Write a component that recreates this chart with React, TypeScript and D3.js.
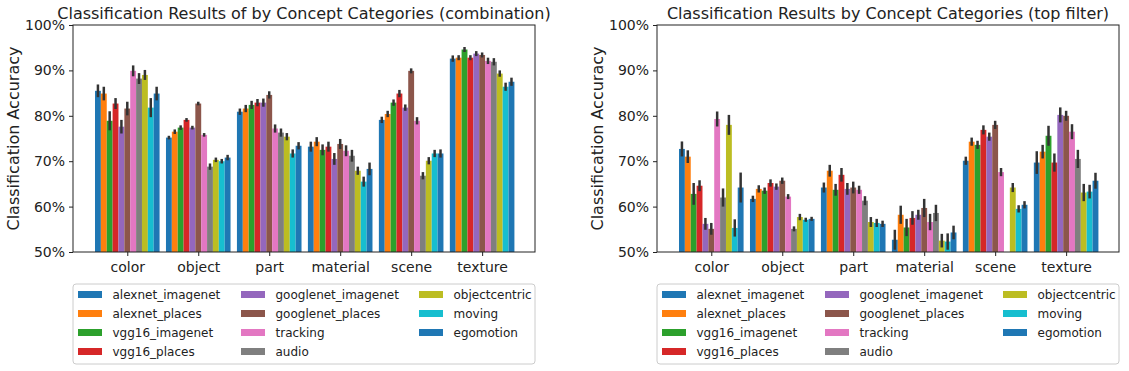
import React, {useEffect, useRef} from 'react';
import * as d3 from 'd3';

const categories = ['color', 'object', 'part', 'material', 'scene', 'texture'];
const models = ['alexnet_imagenet', 'alexnet_places', 'vgg16_imagenet', 'vgg16_places',
    'googlenet_imagenet', 'googlenet_places', 'tracking', 'audio', 'objectcentric', 'moving', 'egomotion'];
const modelColors = ['#1f77b4', '#ff7f0e', '#2ca02c', '#d62728', '#9467bd', '#8c564b',
    '#e377c2', '#7f7f7f', '#bcbd22', '#17becf', '#1f77b4'];
const yTicks = [50, 60, 70, 80, 90, 100];

// rows = categories, columns = models
const comboMeans = [
    [85.5, 84.9, 78.9, 82.7, 77.6, 81.6, 89.9, 88.2, 89.0, 81.8, 84.9],
    [75.2, 76.5, 77.4, 79.1, 77.4, 82.7, 75.8, 68.8, 70.3, 70.0, 70.8],
    [80.9, 81.6, 82.4, 82.9, 82.9, 84.6, 77.2, 76.3, 75.4, 71.7, 73.4],
    [73.2, 74.3, 72.5, 73.2, 70.5, 73.8, 72.3, 71.2, 67.9, 65.5, 68.3],
    [79.1, 80.4, 82.9, 84.9, 81.8, 89.9, 78.9, 66.8, 70.1, 71.7, 71.7],
    [92.6, 92.8, 94.6, 92.8, 93.7, 93.4, 92.1, 91.9, 89.3, 86.4, 87.5],
];
const comboErr = [
    [1.4, 1.5, 2.1, 1.2, 1.5, 1.5, 1.2, 1.2, 1.1, 2.1, 1.5],
    [0.4, 0.5, 0.5, 0.4, 0.4, 0.4, 0.4, 0.7, 0.5, 0.5, 0.6],
    [0.7, 0.8, 0.9, 0.8, 0.9, 0.8, 0.9, 0.9, 0.8, 0.9, 0.8],
    [1.1, 1.0, 1.2, 1.1, 1.3, 1.1, 1.2, 1.3, 0.9, 1.1, 1.4],
    [0.7, 0.7, 0.7, 0.8, 0.7, 0.55, 0.8, 0.8, 0.8, 0.8, 0.9],
    [0.7, 0.55, 0.55, 0.55, 0.55, 0.55, 0.7, 0.8, 0.7, 0.9, 0.9],
];
const topMeans = [
    [72.7, 71.0, 62.8, 64.6, 56.2, 55.1, 79.3, 62.0, 78.0, 55.3, 64.2],
    [61.7, 63.9, 63.5, 65.2, 64.4, 65.7, 62.2, 55.1, 57.7, 57.1, 57.3],
    [64.2, 67.9, 63.7, 67.0, 63.9, 64.2, 63.7, 61.3, 56.6, 56.4, 56.2],
    [52.7, 58.2, 55.4, 57.5, 58.2, 59.7, 56.6, 58.6, 52.5, 52.3, 54.3],
    [70.1, 74.3, 73.6, 76.9, 75.4, 78.0, 67.6, null, 64.2, 59.5, 60.4],
    [69.7, 72.1, 75.6, 69.7, 80.2, 80.0, 76.5, 70.5, 63.1, 63.3, 65.7],
];
const topErr = [
    [1.65, 1.4, 2.4, 1.2, 1.3, 1.3, 1.65, 2.0, 2.2, 1.9, 3.3],
    [0.7, 0.8, 0.7, 0.8, 0.7, 0.7, 0.55, 0.55, 0.7, 0.45, 0.45],
    [1.1, 1.3, 1.3, 1.5, 1.3, 1.3, 0.9, 1.0, 1.1, 0.9, 0.7],
    [2.2, 2.0, 1.9, 1.5, 1.1, 2.0, 1.8, 1.8, 1.5, 1.8, 1.5],
    [0.9, 0.9, 0.9, 1.0, 0.9, 0.9, 0.9, null, 1.0, 0.8, 0.8],
    [2.5, 1.5, 2.2, 2.0, 1.65, 1.1, 1.65, 2.0, 1.9, 1.5, 1.75],
];

const font = 'DejaVu Sans, sans-serif';

function drawPanel(svg, {left, right, title, means, errs, id}) {
    const top = 25, bottom = 252;
    const x = d3.scaleLinear().domain([-0.765, 5.745]).range([left, right]);
    const y = d3.scaleLinear().domain([50, 100]).range([bottom, top]);
    const groupWidth = 0.91;
    const bw = groupWidth / models.length;

    const g = svg.append('g');
    svg.append('defs').append('clipPath').attr('id', id)
        .append('rect').attr('x', left).attr('y', top).attr('width', right - left).attr('height', bottom - top);

    const plot = g.append('g').attr('clip-path', `url(#${id})`);
    categories.forEach((cat, ci) => {
        models.forEach((m, mi) => {
            const v = means[ci][mi];
            if (v == null) return;
            const x0 = ci - groupWidth / 2 + mi * bw;
            plot.append('rect')
                .attr('x', x(x0))
                .attr('width', x(x0 + bw) - x(x0))
                .attr('y', y(v))
                .attr('height', y(50) - y(v))
                .attr('fill', modelColors[mi]);
        });
    });
    categories.forEach((cat, ci) => {
        models.forEach((m, mi) => {
            const v = means[ci][mi];
            if (v == null) return;
            const e = errs[ci][mi];
            const cx = x(ci - groupWidth / 2 + (mi + 0.5) * bw);
            plot.append('line')
                .attr('x1', cx).attr('x2', cx)
                .attr('y1', y(v - e)).attr('y2', y(v + e))
                .attr('stroke', '#333').attr('stroke-width', 2.5);
        });
    });

    // axes
    const xAxis = d3.axisBottom(x).tickValues(d3.range(categories.length))
        .tickFormat(i => categories[i]).tickSize(4).tickSizeOuter(0);
    const gx = g.append('g').attr('transform', `translate(0,${bottom})`).call(xAxis);
    const yAxis = d3.axisLeft(y).tickValues(yTicks).tickFormat(d => `${d}%`).tickSize(4).tickSizeOuter(0);
    const gy = g.append('g').attr('transform', `translate(${left},0)`).call(yAxis);
    [gx, gy].forEach(a => {
        a.select('.domain').remove();
        a.selectAll('line').attr('stroke', '#222');
        a.selectAll('text').attr('font-family', font).attr('font-size', 14).attr('fill', '#222');
    });
    gx.selectAll('text').attr('dy', '0.95em');
    gy.selectAll('text').attr('dx', '-1px');

    g.append('rect').attr('x', left).attr('y', top).attr('width', right - left).attr('height', bottom - top)
        .attr('fill', 'none').attr('stroke', '#222').attr('stroke-width', 1);

    g.append('text').attr('x', (left + right) / 2).attr('y', 19).attr('text-anchor', 'middle')
        .attr('font-family', font).attr('font-size', 16).attr('fill', '#222').text(title);

    g.append('text')
        .attr('transform', `translate(${left - 54},${(top + bottom) / 2}) rotate(-90)`)
        .attr('text-anchor', 'middle').attr('font-family', font).attr('font-size', 16).attr('fill', '#222')
        .text('Classification Accuracy');

    // legend
    const lg = g.append('g');
    lg.append('rect').attr('x', left).attr('y', 284).attr('width', right - left).attr('height', 80)
        .attr('rx', 3).attr('fill', 'white').attr('stroke', '#ccc');
    const colX = [left + 5, left + 168, left + 346];
    models.forEach((m, i) => {
        const col = Math.floor(i / 4), row = i % 4;
        const ry = 294.5 + row * 19;
        lg.append('rect').attr('x', colX[col]).attr('y', ry - 3.5).attr('width', 24).attr('height', 7)
            .attr('fill', modelColors[i]);
        lg.append('text').attr('x', colX[col] + 34.5).attr('y', ry).attr('dy', '0.35em')
            .attr('font-family', font).attr('font-size', 12).attr('fill', '#222').text(m);
    });
}

export default function App() {
    const svgRef = useRef(null);
    useEffect(() => {
        const svg = d3.select(svgRef.current);
        svg.selectAll('*').remove();
        drawPanel(svg, {left: 73, right: 535, title: 'Classification Results of by Concept Categories (combination)',
            means: comboMeans, errs: comboErr, id: 'clipA'});
        drawPanel(svg, {left: 657, right: 1119, title: 'Classification Results by Concept Categories (top filter)',
            means: topMeans, errs: topErr, id: 'clipB'});
    }, []);

    return (
        <svg ref={svgRef} width={1129} height={371}
             style={{position: 'absolute', left: 0, top: 0, background: 'white'}}/>
    );
}
